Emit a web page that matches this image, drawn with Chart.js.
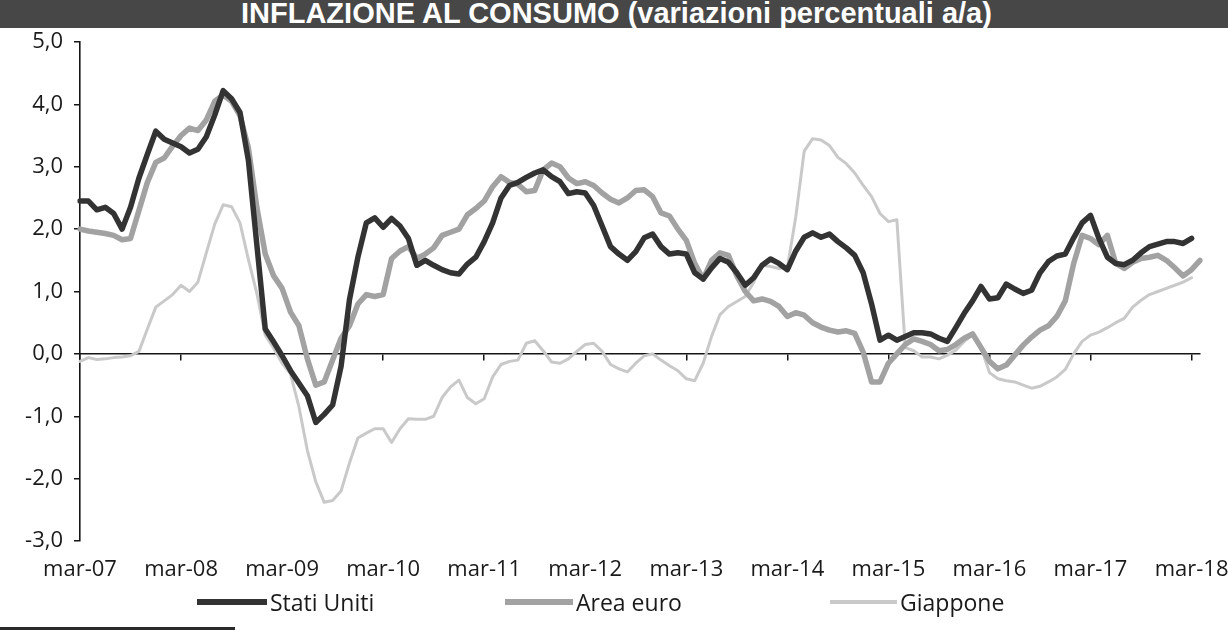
<!DOCTYPE html>
<html>
<head>
<meta charset="utf-8">
<script src="https://cdn.jsdelivr.net/npm/chart.js@4.4.1/dist/chart.umd.min.js"></script>
<style>
  html, body { margin: 0; padding: 0; background: #ffffff; }
  #wrap { position: relative; width: 1228px; height: 631px; overflow: hidden; background: #fff; }
  #band { position: absolute; left: 0; top: 0; width: 1228px; height: 28px; background: #474747; }
  #title { position: absolute; left: 241px; top: -3px; font: bold 29px 'Liberation Sans', Arial, sans-serif;
           color: #ffffff; white-space: nowrap; line-height: 32px; }
  canvas { position: absolute; left: 0; top: 0; }
  .lg { position: absolute; display: flex; align-items: center; font: 23px 'Open Sans', sans-serif; color: #1a1a1a; white-space: nowrap; }
  .lg .sw { display: inline-block; margin-right: 3px; }
  #rule { position: absolute; left: 0; top: 627px; width: 235px; height: 3px; background: #2a2a2a; }
</style>
</head>
<body>
<div id="wrap">
  <div id="band"><div id="title">INFLAZIONE AL CONSUMO (variazioni percentuali a/a)</div></div>
  <canvas id="c" width="1228" height="631"></canvas>
  <div id="legend"></div>
  <div id="rule"></div>
</div>
<script>
// ---- data (monthly, mar-07 .. apr-18) ----
const monthNames = ['gen','feb','mar','apr','mag','giu','lug','ago','set','ott','nov','dic'];
const startMonth = 2;   // mar
const startYear = 7;    // 2007
const nMonths = 134;
const categories = [];
for (let i = 0; i < nMonths; i++) {
  const m = (startMonth + i) % 12;
  const y = startYear + Math.floor((startMonth + i) / 12);
  categories.push(monthNames[m] + '-' + String(y).padStart(2, '0'));
}
const tickLabels = ['mar-07','mar-08','mar-09','mar-10','mar-11','mar-12','mar-13','mar-14','mar-15','mar-16','mar-17','mar-18'];
const yTicks = [5, 4, 3, 2, 1, 0, -1, -2, -3];

const statiUniti = [
  2.45,2.45,2.31,2.35,2.25,2.0,2.35,2.82,3.2,3.57,
  3.44,3.38,3.32,3.22,3.28,3.48,3.83,4.22,4.09,3.87,
  3.1,1.75,0.4,0.19,-0.03,-0.27,-0.47,-0.67,-1.1,-0.97,
  -0.82,-0.2,0.87,1.55,2.1,2.18,2.03,2.17,2.05,1.85,
  1.42,1.5,1.42,1.35,1.3,1.28,1.44,1.55,1.8,2.1,
  2.5,2.7,2.75,2.83,2.9,2.95,2.84,2.76,2.57,2.6,
  2.58,2.38,2.05,1.72,1.6,1.5,1.64,1.86,1.92,1.72,
  1.6,1.62,1.6,1.3,1.2,1.38,1.53,1.47,1.3,1.1,
  1.22,1.42,1.52,1.45,1.35,1.65,1.87,1.94,1.87,1.92,
  1.8,1.7,1.58,1.3,0.8,0.22,0.3,0.22,0.28,0.34,
  0.34,0.32,0.25,0.2,0.42,0.65,0.85,1.08,0.88,0.9,
  1.12,1.04,0.97,1.02,1.3,1.48,1.57,1.6,1.86,2.1,
  2.22,1.85,1.55,1.45,1.43,1.5,1.62,1.72,1.76,1.8,
  1.8,1.77,1.85
];
const areaEuro = [
  2.0,1.97,1.95,1.93,1.9,1.83,1.85,2.3,2.75,3.07,
  3.14,3.33,3.5,3.62,3.58,3.75,4.05,4.15,4.05,3.82,
  3.3,2.35,1.6,1.25,1.05,0.67,0.45,-0.08,-0.5,-0.45,
  -0.1,0.25,0.45,0.8,0.95,0.92,0.95,1.53,1.65,1.72,
  1.53,1.6,1.7,1.9,1.95,2.0,2.23,2.33,2.45,2.68,
  2.84,2.75,2.72,2.6,2.62,2.95,3.06,3.0,2.82,2.73,
  2.76,2.7,2.58,2.48,2.42,2.5,2.62,2.63,2.52,2.26,
  2.21,2.0,1.82,1.45,1.2,1.5,1.62,1.58,1.25,1.0,
  0.85,0.88,0.84,0.76,0.6,0.66,0.62,0.5,0.43,0.38,
  0.35,0.37,0.33,0.03,-0.45,-0.45,-0.15,0.0,0.15,0.24,
  0.2,0.15,0.05,0.07,0.15,0.25,0.32,0.1,-0.12,-0.24,
  -0.18,-0.02,0.14,0.27,0.38,0.45,0.6,0.85,1.45,1.9,
  1.85,1.75,1.9,1.45,1.37,1.47,1.53,1.55,1.58,1.5,
  1.38,1.25,1.35,1.5
];
const giappone = [
  -0.12,-0.06,-0.09,-0.08,-0.06,-0.05,-0.03,0.04,0.4,0.75,
  0.85,0.95,1.1,1.0,1.15,1.62,2.08,2.39,2.36,2.1,
  1.51,0.97,0.3,0.09,-0.15,-0.32,-0.85,-1.55,-2.05,-2.38,
  -2.35,-2.2,-1.75,-1.35,-1.27,-1.2,-1.2,-1.42,-1.2,-1.04,
  -1.05,-1.05,-1.0,-0.7,-0.53,-0.42,-0.7,-0.8,-0.72,-0.37,
  -0.17,-0.12,-0.1,0.17,0.21,0.05,-0.13,-0.15,-0.08,0.04,
  0.15,0.17,0.04,-0.17,-0.24,-0.29,-0.15,-0.03,0.0,-0.1,
  -0.19,-0.27,-0.4,-0.43,-0.15,0.28,0.63,0.76,0.84,0.92,
  1.15,1.42,1.4,1.37,1.38,2.2,3.25,3.45,3.43,3.34,
  3.15,3.05,2.9,2.7,2.52,2.25,2.12,2.15,0.1,0.05,
  -0.05,-0.05,-0.08,-0.02,0.06,0.2,0.3,0.1,-0.3,-0.4,
  -0.43,-0.45,-0.5,-0.55,-0.52,-0.45,-0.37,-0.25,0.0,0.2,
  0.3,0.35,0.42,0.5,0.57,0.75,0.86,0.95,1.0,1.05,
  1.1,1.15,1.22
];
const seriesNames = ['Stati Uniti', 'Area euro', 'Giappone'];

// ---- styles ----
const colUS = '#333333', colEU = '#a2a2a2', colJP = '#c9c9c9';
const axisColor = '#151515';
const labelFont = { family: "'Open Sans', sans-serif", size: 22 };
const isMar = (i) => tickLabels.includes(categories[i]);

const chart = new Chart(document.getElementById('c'), {
  type: 'line',
  data: {
    labels: categories,
    datasets: [
      { label: seriesNames[0], data: statiUniti, borderColor: colUS, backgroundColor: colUS, borderWidth: 5.5 },
      { label: seriesNames[1], data: areaEuro, borderColor: colEU, backgroundColor: colEU, borderWidth: 5.5 },
      { label: seriesNames[2], data: giappone, borderColor: colJP, backgroundColor: colJP, borderWidth: 3 }
    ]
  },
  options: {
    responsive: false,
    animation: false,
    devicePixelRatio: 1,
    layout: { padding: { top: 42, right: 28, bottom: 0, left: 0 } },
    elements: {
      point: { radius: 0, hoverRadius: 0 },
      line: { tension: 0, borderJoinStyle: 'round', borderCapStyle: 'round', fill: false }
    },
    plugins: { legend: { display: false }, title: { display: false }, tooltip: { enabled: false } },
    scales: {
      x: {
        type: 'category',
        position: 'bottom',
        offset: false,
        grid: { display: false },
        border: { display: false },
        ticks: {
          autoSkip: false, maxRotation: 0, minRotation: 0,
          color: '#1a1a1a', font: labelFont, padding: 8,
          callback: function (v, i) { return isMar(i) ? categories[i] : null; }
        },
        afterFit: function (s) { s.height = 90; s.paddingLeft = 0; s.paddingRight = 0; }
      },
      x0: {
        axis: 'x',
        type: 'category',
        position: { y: 0 },
        offset: false,
        ticks: { display: false, autoSkip: false },
        grid: {
          drawOnChartArea: false, drawTicks: true, tickLength: 6, lineWidth: 1.5,
          color: (ctx) => (isMar(ctx.index) ? axisColor : 'rgba(0,0,0,0)')
        },
        border: { display: true, color: axisColor, width: 1.6 },
        afterFit: function (s) { s.paddingLeft = 0; s.paddingRight = 0; }
      },
      y: {
        min: -3, max: 5,
        afterBuildTicks: function (s) { s.ticks = yTicks.map(v => ({ value: v })); },
        grid: { drawOnChartArea: false, drawTicks: true, tickLength: 6, color: axisColor, lineWidth: 1.5 },
        border: { display: true, color: axisColor, width: 1.6 },
        ticks: {
          color: '#1a1a1a', font: labelFont, padding: 11,
          callback: (v) => v.toFixed(1).replace('.', ',')
        },
        afterFit: function (s) { s.width = 80; }
      }
    }
  }
});

// ---- HTML legend built from the chart's datasets ----
const legendSlots = [
  { swLeft: 197, swWidth: 70 },
  { swLeft: 505, swWidth: 68 },
  { swLeft: 830, swWidth: 67 }
];
const legendCenterY = 602;
const legendEl = document.getElementById('legend');
chart.data.datasets.forEach((ds, i) => {
  const item = document.createElement('div');
  item.className = 'lg';
  item.style.left = legendSlots[i].swLeft + 'px';
  item.style.top = (legendCenterY - 16) + 'px';
  item.style.height = '32px';
  const sw = document.createElement('span');
  sw.className = 'sw';
  sw.style.width = legendSlots[i].swWidth + 'px';
  sw.style.height = Math.max(4, ds.borderWidth) + 'px';
  sw.style.background = ds.borderColor;
  const tx = document.createElement('span');
  tx.textContent = ds.label;
  item.appendChild(sw);
  item.appendChild(tx);
  legendEl.appendChild(item);
});
</script>
</body>
</html>
